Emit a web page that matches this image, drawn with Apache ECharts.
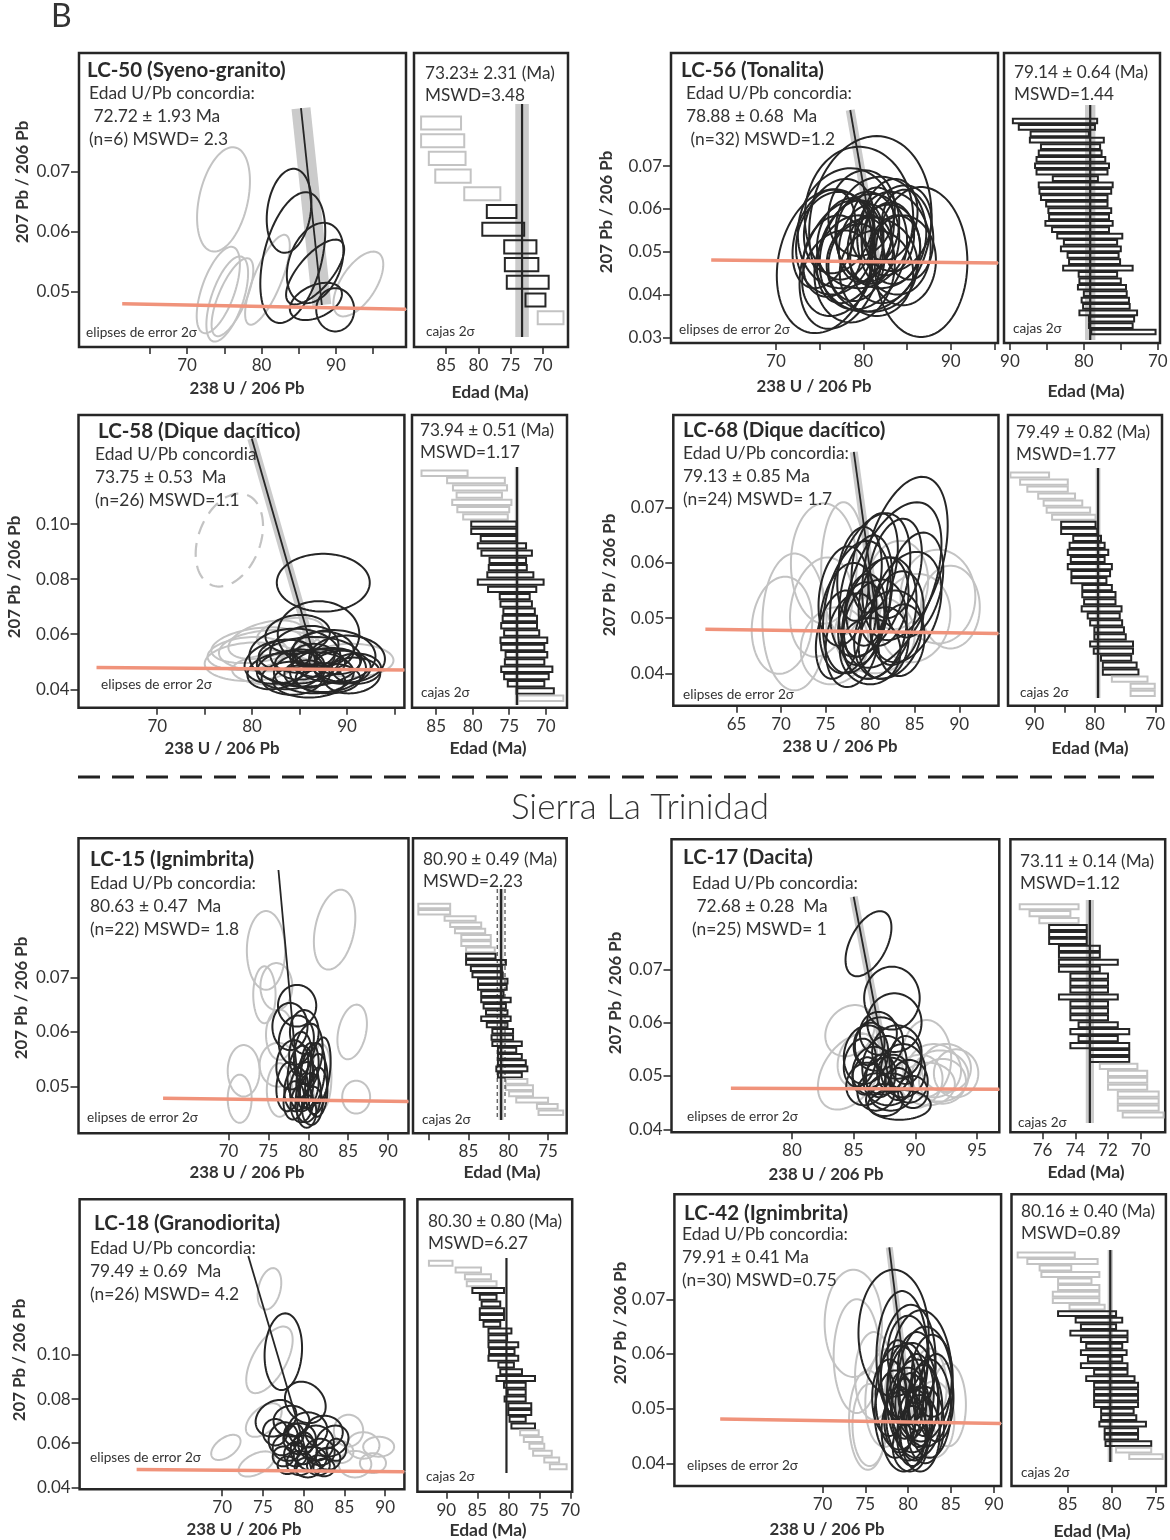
<!DOCTYPE html>
<html>
<head>
<meta charset="utf-8">
<script src="https://cdn.jsdelivr.net/npm/echarts@6/dist/echarts.min.js"></script>
<style>
  html, body { margin: 0; padding: 0; background: #ffffff; }
  #chart { width: 1170px; height: 1540px; }
</style>
</head>
<body>
<div id="chart"></div>
<script>
// Ellipses: [238U/206Pb centre, 207Pb/206Pb centre, half-width (2σ) x, half-height (2σ) y, correlation]
// Boxes: [older age, younger age, used in mean (1) or rejected (0)]

// ---------------- LC-50 ----------------
const lc50Black = [
  [83.7,0.0635,3.0,0.0070,0.2],[84.2,0.0557,4.36,0.0109,0.4],[87.2,0.0548,3.8,0.0067,0.3],
  [87.2,0.0533,3.9,0.0054,0.7],[87.3,0.0484,3.5,0.0031,0.4],[89.9,0.0470,2.55,0.0036,0.0]
];
const lc50Gray = [
  [74.9,0.0654,3.55,0.0087,0.35],[74.2,0.0503,2.9,0.0072,0.6],[75.4,0.0488,2.8,0.0071,0.6],
  [76.1,0.0491,2.8,0.0065,0.7],[80.8,0.0520,3.0,0.0075,0.75],[93.0,0.0513,3.35,0.0054,0.6]
];
const lc50Concordia = [[61.3,0.0480],[99.4,0.0471]];
const lc50Tail = [[99.4,0.0471],[101.3,0.0470]];
const lc50Regression = [[85.3,0.0806],[88.1,0.0478]];
const lc50Boxes = [
  [88.9,82.7,0],[88.9,82.2,0],[87.7,82.0,0],[86.7,81.2,0],[82.2,76.6,0],[78.7,74.1,1],
  [79.4,72.9,1],[76.0,71.0,1],[75.9,70.7,1],[75.6,69.1,1],[72.7,69.6,1],[70.8,66.8,0]
];
const lc50Mean = 73.23;
const lc50Band = 1.05;
const lc50XTicks = [65,70,75,80,85,90,95];
const lc50XLabels = [70,80,90];
const lc50YTicks = [0.05,0.06,0.07];
const lc50AgeTicks = [85,80,75,70];
const lc50AgeLabels = [85,80,75,70];
const lc50Text = ['LC-50 (Syeno-granito)','Edad U/Pb concordia:',' 72.72 ± 1.93 Ma','(n=6) MSWD= 2.3'];
const lc50BoxText = ['73.23± 2.31 (Ma)','MSWD=3.48'];

// ---------------- LC-56 ----------------
const lc56Black = [
  [80.8,0.0565,7.0,0.0205,0.1],[79.5,0.0580,6.2,0.0165,0.0],[86.6,0.0476,5.3,0.0175,0.0],
  [75.6,0.0478,5.5,0.0168,0.2],[77.5,0.0470,4.8,0.0150,0.3],[78.0,0.0555,5.5,0.0140,0.1],
  [82.0,0.0545,5.2,0.0130,0.0],[80.0,0.0500,5.0,0.0135,0.2],[76.8,0.0520,4.5,0.0120,0.1],
  [83.5,0.0520,4.2,0.0120,-0.1],[79.0,0.0460,4.6,0.0125,0.1],[81.0,0.0470,5.2,0.0110,0.0],
  [77.2,0.0560,4.0,0.0110,0.2],[84.0,0.0555,3.8,0.0100,0.2],[80.5,0.0535,3.6,0.0105,0.0],
  [78.5,0.0500,3.8,0.0120,0.3],[82.5,0.0495,4.0,0.0115,0.1],[75.5,0.0530,3.6,0.0115,0.3],
  [83.0,0.0575,3.2,0.0095,0.2],[79.8,0.0590,3.8,0.0100,0.1],[81.5,0.0450,4.2,0.0100,0.0],
  [77.0,0.0450,4.0,0.0100,0.2],[84.5,0.0480,3.8,0.0105,0.0],[80.2,0.0520,3.0,0.0090,0.2],
  [82.8,0.0530,3.0,0.0085,0.1],[78.0,0.0530,3.3,0.0095,0.2],[81.3,0.0560,2.8,0.0090,0.1],
  [76.5,0.0490,3.4,0.0095,0.2],[83.6,0.0505,2.9,0.0080,0.1],[79.2,0.0475,3.2,0.0090,0.1],
  [80.8,0.0505,2.6,0.0080,0.0],[85.0,0.0540,3.0,0.0105,-0.1]
];
const lc56Gray = [];
const lc56Concordia = [[62.6,0.0481],[95.4,0.0474]];
const lc56Tail = [[95.4,0.0474],[96.2,0.0474]];
const lc56Regression = [[78.5,0.0831],[81.5,0.0478]];
const lc56Boxes = [
  [89.6,78.2,1],[88.8,78.5,1],[87.2,79.3,1],[87.3,77.3,1],[85.8,77.8,1],[86.1,77.6,1],
  [86.4,77.1,1],[86.6,76.6,1],[86.4,76.8,1],[84.2,78.1,1],[86.1,76.1,1],[86.0,76.3,1],
  [85.8,76.8,1],[85.1,76.8,1],[84.8,76.3,1],[84.7,76.6,1],[85.2,76.1,1],[84.3,76.6,1],
  [83.6,74.8,1],[82.7,75.5,1],[83.1,75.0,1],[82.2,75.3,1],[82.0,75.1,1],[82.8,73.4,1],
  [80.7,75.5,1],[80.6,75.0,1],[80.8,74.3,1],[80.0,74.2,1],[80.3,73.9,1],[80.1,73.8,1],
  [80.6,72.8,1],[79.3,73.2,1],[79.3,73.4,1],[79.0,70.3,1]
];
const lc56Mean = 79.14;
const lc56Band = 0.7;
const lc56XTicks = [70,75,80,85,90,95];
const lc56XLabels = [70,80,90];
const lc56YTicks = [0.03,0.04,0.05,0.06,0.07];
const lc56AgeTicks = [90,85,80,75,70];
const lc56AgeLabels = [90,80,70];
const lc56Text = ['LC-56 (Tonalita)','Edad U/Pb concordia:','78.88 ± 0.68  Ma',' (n=32) MSWD=1.2'];
const lc56BoxText = ['79.14 ± 0.64 (Ma)','MSWD=1.44'];

// ---------------- LC-58 ----------------
const lc58Black = [
  [87.5,0.0787,4.9,0.0105,0.0],[87.0,0.0600,4.3,0.0120,0.0],[84.5,0.0520,4.8,0.0100,0.0],
  [86.0,0.0500,5.5,0.0090,0.1],[88.5,0.0520,4.5,0.0095,0.0],[83.0,0.0500,3.8,0.0080,0.2],
  [90.0,0.0510,4.0,0.0085,0.0],[86.5,0.0460,4.2,0.0075,0.0],[84.0,0.0470,3.5,0.0070,0.1],
  [88.0,0.0470,4.0,0.0080,0.1],[85.5,0.0545,3.6,0.0085,0.2],[87.5,0.0540,3.2,0.0070,0.0],
  [89.5,0.0480,3.0,0.0060,0.0],[82.5,0.0465,3.0,0.0065,0.2],[86.0,0.0430,3.8,0.0060,0.0],
  [88.0,0.0440,3.4,0.0055,0.0],[84.2,0.0440,3.2,0.0060,0.0],[90.5,0.0450,3.0,0.0065,0.1],
  [85.0,0.0490,2.6,0.0055,0.0],[87.0,0.0495,2.8,0.0050,0.0],[89.0,0.0500,2.4,0.0045,0.0],
  [83.5,0.0525,2.8,0.0055,0.1],[86.5,0.0520,2.2,0.0045,0.0],[91.0,0.0475,2.6,0.0055,0.0],
  [85.8,0.0455,2.4,0.0050,0.0],[84.8,0.0600,3.4,0.0070,0.1]
];
const lc58Gray = [
  [80.5,0.0560,4.8,0.0065,0.3],[79.5,0.0530,4.2,0.0060,0.2],[81.5,0.0580,4.0,0.0070,0.4],
  [80.0,0.0500,5.0,0.0070,0.1],[82.0,0.0540,5.5,0.0075,0.1],[90.5,0.0505,4.4,0.0060,0.0],
  [82.5,0.0470,4.6,0.0055,0.0],[84.0,0.0600,3.5,0.0060,0.3]
];
const lc58Dashed = [[77.6,0.0942,3.55,0.0169,0.3]];
const lc58Concordia = [[63.6,0.0479],[96.05,0.0470]];
const lc58Tail = [[96.05,0.0470],[101.1,0.0470]];
const lc58Regression = [[79.96,0.1311],[86.9,0.0475]];
const lc58Boxes = [
  [87.0,80.7,0],[83.5,75.6,0],[82.7,75.3,0],[82.2,76.0,0],[82.8,74.7,0],[82.1,75.0,0],
  [81.3,75.2,0],[80.2,74.0,1],[80.2,74.0,1],[78.9,74.0,1],[79.3,72.7,1],[78.8,71.9,1],
  [77.7,72.7,1],[77.8,72.6,1],[78.0,71.7,1],[79.3,70.3,1],[77.9,71.3,1],[76.3,72.2,1],
  [76.2,71.9,1],[75.8,71.5,1],[75.9,71.2,1],[76.1,71.2,1],[75.7,70.9,1],[76.2,69.8,1],
  [76.1,70.2,1],[75.5,69.8,1],[75.6,70.2,1],[76.1,69.1,1],[75.7,69.6,1],[75.2,70.2,1],
  [74.0,68.9,1],[73.8,67.6,0]
];
const lc58Mean = 73.94;
const lc58Band = 0.3;
const lc58XTicks = [70,75,80,85,90,95];
const lc58XLabels = [70,80,90];
const lc58YTicks = [0.04,0.06,0.08,0.10];
const lc58AgeTicks = [85,80,75,70];
const lc58AgeLabels = [85,80,75,70];
const lc58Text = ['LC-58 (Dique dacítico)','Edad U/Pb concordia','73.75 ± 0.53  Ma','(n=26) MSWD=1.1'];
const lc58BoxText = ['73.94 ± 0.51 (Ma)','MSWD=1.17'];

// ---------------- LC-68 ----------------
const lc68Black = [
  [83.9,0.0608,4.8,0.0148,0.4],[82.5,0.0560,5.5,0.0150,0.5],[80.0,0.0560,4.5,0.0130,0.4],
  [78.5,0.0520,3.8,0.0120,0.3],[81.0,0.0500,4.2,0.0110,0.3],[79.5,0.0540,3.0,0.0110,0.3],
  [84.0,0.0520,4.0,0.0100,0.3],[77.5,0.0500,3.2,0.0100,0.2],[80.5,0.0480,3.6,0.0090,0.2],
  [82.0,0.0470,3.8,0.0080,0.2],[78.0,0.0460,3.0,0.0085,0.2],[81.5,0.0530,2.8,0.0080,0.2],
  [79.0,0.0490,2.6,0.0075,0.2],[83.0,0.0500,3.0,0.0085,0.2],[80.0,0.0440,3.4,0.0060,0.0],
  [78.8,0.0580,2.5,0.0085,0.2],[82.8,0.0590,3.0,0.0090,0.3],[85.0,0.0560,3.2,0.0095,0.3],
  [77.0,0.0540,2.8,0.0090,0.2],[80.5,0.0600,2.6,0.0090,0.3],[81.5,0.0455,2.8,0.0065,0.1],
  [79.5,0.0515,2.2,0.0065,0.1],[76.5,0.0470,2.6,0.0080,0.3],[83.5,0.0460,2.6,0.0065,0.1]
];
const lc68Gray = [
  [70.1,0.0487,3.4,0.0088,0.1],[71.5,0.0493,3.6,0.0124,0.0],[74.8,0.0599,3.7,0.0109,0.0],
  [77.0,0.0590,2.5,0.0120,0.0],[87.6,0.0539,4.2,0.0085,0.0],[89.0,0.0520,3.3,0.0075,0.0],
  [85.0,0.0500,4.0,0.0080,0.1],[76.0,0.0450,3.8,0.0070,0.1],[80.5,0.0470,4.5,0.0070,0.0],
  [74.5,0.0520,3.5,0.0090,0.2],[83.0,0.0560,3.5,0.0080,0.1]
];
const lc68Concordia = [[61.5,0.0480],[94.4,0.0472]];
const lc68Tail = [[94.4,0.0472],[96.2,0.0472]];
const lc68Regression = [[78.16,0.0801],[80.9,0.0478]];
const lc68Boxes = [
  [94.0,87.6,0],[92.4,84.5,0],[91.2,84.5,0],[89.4,83.3,0],[88.5,82.1,0],[88.0,80.8,0],
  [87.1,79.9,0],[85.6,79.9,1],[85.6,79.6,1],[83.6,79.0,1],[84.2,78.4,1],[84.5,77.8,1],
  [84.0,78.4,1],[84.5,77.2,1],[83.9,77.5,1],[83.9,78.1,1],[82.1,77.2,1],[82.1,76.6,1],
  [81.8,76.6,1],[82.2,75.6,1],[81.2,75.9,1],[80.8,75.5,1],[80.1,75.2,1],[80.1,74.9,1],
  [80.8,73.7,1],[80.2,73.7,1],[79.0,74.0,1],[78.7,73.1,1],[78.7,72.8,1],[77.2,71.3,0],
  [74.1,70.1,0],[74.1,70.1,0]
];
const lc68Mean = 79.49;
const lc68Band = 0.4;
const lc68XTicks = [65,70,75,80,85,90];
const lc68XLabels = [65,70,75,80,85,90];
const lc68YTicks = [0.04,0.05,0.06,0.07];
const lc68AgeTicks = [90,85,80,75,70];
const lc68AgeLabels = [90,80,70];
const lc68Text = ['LC-68 (Dique dacítico)','Edad U/Pb concordia:','79.13 ± 0.85 Ma','(n=24) MSWD= 1.7'];
const lc68BoxText = ['79.49 ± 0.82 (Ma)','MSWD=1.77'];

// ---------------- LC-15 ----------------
const lc15Black = [
  [78.6,0.0648,2.4,0.0038,0.0],[77.7,0.0610,2.2,0.0043,0.0],[78.5,0.0585,2.2,0.0045,0.1],
  [79.5,0.0600,1.8,0.0040,0.0],[80.0,0.0560,1.8,0.0055,0.2],[78.0,0.0540,2.0,0.0045,0.1],
  [79.0,0.0525,1.6,0.0050,0.2],[80.5,0.0520,1.6,0.0060,0.3],[81.0,0.0505,1.4,0.0055,0.2],
  [79.5,0.0500,1.8,0.0045,0.2],[78.5,0.0495,1.5,0.0040,0.1],[80.0,0.0480,1.6,0.0045,0.2],
  [81.2,0.0490,1.2,0.0045,0.1],[79.2,0.0470,1.4,0.0035,0.1],[77.5,0.0500,1.5,0.0045,0.1],
  [80.5,0.0465,1.3,0.0035,0.1],[79.8,0.0455,1.2,0.0030,0.0],[78.2,0.0475,1.3,0.0035,0.1],
  [81.5,0.0530,1.3,0.0060,0.3],[79.0,0.0560,1.4,0.0040,0.1],[80.2,0.0540,1.1,0.0040,0.1],
  [79.6,0.0510,1.1,0.0050,0.2]
];
const lc15Gray = [
  [83.3,0.0787,2.6,0.0073,0.3],[74.7,0.0749,2.4,0.0072,0.0],[74.5,0.0668,1.4,0.0052,0.0],
  [76.0,0.0683,2.0,0.0043,0.0],[85.5,0.0600,1.85,0.0050,0.3],[76.4,0.0595,1.7,0.0046,0.0],
  [71.9,0.0529,2.0,0.0047,0.0],[71.4,0.0478,1.5,0.0044,0.0],[76.2,0.0540,2.3,0.0040,0.0],
  [76.4,0.0494,1.6,0.0049,0.0],[86.0,0.0481,1.75,0.0030,0.0],[81.7,0.0518,1.2,0.0060,0.0]
];
const lc15Concordia = [[61.8,0.0479],[92.56,0.0473]];
const lc15Tail = [[92.56,0.0473],[101.2,0.0473]];
const lc15Regression = [[76.26,0.0896],[78.9,0.0475]];
const lc15Boxes = [
  [91.3,87.3,0],[91.3,87.3,0],[88.0,84.1,0],[87.3,83.4,0],[86.7,82.9,0],[85.9,82.2,0],
  [85.9,82.2,0],[85.3,81.7,0],[85.3,81.6,1],[85.3,80.3,1],[84.7,80.8,1],[84.5,80.7,1],
  [83.8,80.1,1],[83.8,80.2,1],[83.4,80.6,1],[83.4,79.7,1],[83.1,80.3,1],[82.8,80.1,1],
  [83.4,79.7,1],[82.7,80.1,1],[82.0,79.4,1],[82.1,79.4,1],[82.0,78.3,1],[81.3,79.0,1],
  [81.3,78.3,1],[81.3,77.8,1],[81.5,77.6,1],[81.3,78.3,1],[80.3,77.6,0],[80.3,76.9,0],
  [79.9,76.9,0],[79.0,75.0,0],[76.4,73.8,0],[76.2,73.1,0]
];
const lc15Mean = 80.90;
const lc15Band = 0.3;
const lc15Error = 0.49;
const lc15XTicks = [70,75,80,85,90];
const lc15XLabels = [70,75,80,85,90];
const lc15YTicks = [0.05,0.06,0.07];
const lc15AgeTicks = [90,85,80,75];
const lc15AgeLabels = [85,80,75];
const lc15Text = ['LC-15 (Ignimbrita)','Edad U/Pb concordia:','80.63 ± 0.47  Ma','(n=22) MSWD= 1.8'];
const lc15BoxText = ['80.90 ± 0.49 (Ma)','MSWD=2.23'];

// ---------------- LC-17 ----------------
const lc17Black = [
  [86.2,0.0748,1.86,0.0061,0.5],[88.1,0.0646,2.25,0.0059,0.0],[88.3,0.0600,2.2,0.0055,0.0],
  [87.0,0.0560,2.0,0.0050,0.1],[86.0,0.0540,1.8,0.0055,0.1],[88.5,0.0545,2.0,0.0050,0.0],
  [87.5,0.0520,1.8,0.0055,0.1],[86.5,0.0510,1.6,0.0045,0.1],[89.0,0.0510,1.8,0.0050,0.0],
  [87.8,0.0490,2.0,0.0045,0.0],[86.0,0.0485,1.6,0.0040,0.1],[89.5,0.0490,1.5,0.0040,0.0],
  [88.0,0.0470,1.8,0.0035,0.0],[86.8,0.0470,1.5,0.0035,0.0],[88.7,0.0446,2.55,0.0028,0.0],
  [87.2,0.0500,1.2,0.0040,0.1],[85.5,0.0525,1.3,0.0045,0.2],[89.2,0.0530,1.3,0.0045,0.0],
  [87.0,0.0580,1.5,0.0040,0.0],[88.2,0.0505,1.3,0.0035,0.0],[86.3,0.0560,1.2,0.0040,0.1],
  [89.8,0.0470,1.2,0.0030,0.0],[87.5,0.0455,1.5,0.0030,0.0],[86.0,0.0500,1.1,0.0035,0.1],
  [88.6,0.0485,1.1,0.0030,0.0]
];
const lc17Gray = [
  [84.7,0.0585,2.0,0.0048,0.2],[84.7,0.0508,2.6,0.0071,0.4],[85.3,0.0530,1.6,0.0050,0.2],
  [90.9,0.0533,2.0,0.0072,0.0],[91.5,0.0510,2.2,0.0050,0.0],[92.0,0.0500,2.3,0.0048,0.0],
  [92.5,0.0515,2.0,0.0045,0.0],[93.3,0.0505,1.8,0.0045,0.0],[91.0,0.0485,2.2,0.0040,0.0],
  [92.2,0.0490,1.9,0.0042,0.0],[90.2,0.0490,2.0,0.0050,0.1]
];
const lc17Concordia = [[75.05,0.0477],[96.8,0.0475]];
const lc17Tail = [[96.8,0.0475],[100.7,0.0475]];
const lc17Regression = [[85.0,0.0836],[88.0,0.0475]];
const lc17Boxes = [
  [77.4,73.8,0],[76.8,74.3,0],[76.2,73.8,0],[75.6,73.3,1],[75.6,73.3,1],[75.6,73.3,1],
  [75.0,72.5,1],[75.0,72.5,1],[75.0,71.4,1],[75.0,72.5,1],[74.3,72.0,1],[74.3,72.0,1],
  [74.3,72.0,1],[75.0,71.4,1],[74.3,72.0,1],[74.3,72.0,1],[74.3,72.0,1],[73.8,71.4,1],
  [74.3,70.7,1],[73.8,71.4,1],[74.3,70.7,1],[73.1,70.7,1],[73.1,70.7,1],[72.5,70.2,0],
  [72.0,69.6,0],[72.0,69.6,0],[72.0,69.6,0],[71.4,68.9,0],[71.4,68.9,0],[71.4,68.9,0],
  [71.1,68.6,0]
];
const lc17Mean = 73.11;
const lc17Band = 0.25;
const lc17XTicks = [80,85,90,95];
const lc17XLabels = [80,85,90,95];
const lc17YTicks = [0.04,0.05,0.06,0.07];
const lc17AgeTicks = [76,74,72,70];
const lc17AgeLabels = [76,74,72,70];
const lc17Text = ['LC-17 (Dacita)','Edad U/Pb concordia:',' 72.68 ± 0.28  Ma','(n=25) MSWD= 1'];
const lc17BoxText = ['73.11 ± 0.14 (Ma)','MSWD=1.12'];

// ---------------- LC-18 ----------------
const lc18Black = [
  [77.5,0.1015,2.3,0.0174,0.1],[80.2,0.0785,2.5,0.0094,-0.2],[76.6,0.0713,2.5,0.0083,0.2],
  [78.5,0.0700,2.2,0.0070,0.0],[80.5,0.0660,2.4,0.0080,0.0],[82.5,0.0650,2.3,0.0075,0.0],
  [77.5,0.0620,1.8,0.0075,0.1],[79.5,0.0620,2.0,0.0070,0.0],[81.5,0.0600,2.2,0.0080,0.0],
  [83.5,0.0610,2.0,0.0070,0.2],[78.0,0.0580,1.8,0.0060,0.0],[80.0,0.0570,1.6,0.0065,0.0],
  [82.0,0.0560,1.8,0.0060,0.0],[79.0,0.0550,1.4,0.0055,0.0],[81.0,0.0530,1.8,0.0055,0.0],
  [83.0,0.0530,1.5,0.0050,0.0],[79.5,0.0510,1.6,0.0055,0.0],[81.8,0.0500,1.4,0.0045,0.0],
  [77.5,0.0540,1.3,0.0045,0.0],[80.5,0.0490,1.6,0.0045,0.0],[76.5,0.0650,1.5,0.0060,0.0],
  [78.8,0.0640,1.2,0.0050,0.0],[82.5,0.0490,1.3,0.0040,0.0],[80.0,0.0600,1.2,0.0050,0.0],
  [84.0,0.0570,1.2,0.0050,0.0],[78.0,0.0500,1.2,0.0040,0.0]
];
const lc18Gray = [
  [75.8,0.1300,1.45,0.0094,0.3],[75.8,0.0978,2.85,0.0151,0.6],[75.1,0.0705,2.2,0.0076,0.5],
  [70.45,0.0581,1.8,0.0057,0.5],[74.2,0.0506,2.2,0.0057,0.5],[85.5,0.0657,1.8,0.0072,0.0],
  [87.3,0.0590,2.0,0.0060,0.0],[89.2,0.0584,1.9,0.0045,0.0],[86.3,0.0505,2.0,0.0060,0.0],
  [84.5,0.0560,1.6,0.0050,0.0],[88.5,0.0510,1.6,0.0045,0.0]
];
const lc18Concordia = [[59.5,0.0481],[92.36,0.0471]];
const lc18Tail = [[92.36,0.0471],[94.76,0.0471]];
const lc18Regression = [[73.2,0.1449],[81.0,0.0475]];
const lc18Boxes = [
  [92.8,89.0,0],[88.5,84.4,0],[87.0,82.8,0],[86.7,81.9,0],[85.8,80.7,1],[84.6,81.9,1],
  [84.3,81.3,1],[84.6,80.7,1],[84.6,80.7,1],[84.0,81.3,1],[83.2,79.5,1],[83.2,80.2,1],
  [83.2,78.4,1],[83.1,79.0,1],[83.2,78.4,1],[81.6,79.1,1],[81.3,77.8,1],[81.9,75.7,1],
  [80.7,77.2,1],[80.1,77.2,1],[80.6,77.2,1],[80.0,76.3,1],[80.0,76.3,1],[79.8,77.2,1],
  [79.5,75.7,1],[78.1,75.1,0],[77.5,74.5,0],[76.6,74.2,0],[76.0,73.0,0],[74.2,71.8,0],
  [73.3,70.6,0]
];
const lc18Mean = 80.30;
const lc18Band = 0;
const lc18XTicks = [70,75,80,85,90];
const lc18XLabels = [70,75,80,85,90];
const lc18YTicks = [0.04,0.06,0.08,0.10];
const lc18AgeTicks = [90,85,80,75,70];
const lc18AgeLabels = [90,85,80,75,70];
const lc18Text = ['LC-18 (Granodiorita)','Edad U/Pb concordia:','79.49 ± 0.69  Ma','(n=26) MSWD= 4.2'];
const lc18BoxText = ['80.30 ± 0.80 (Ma)','MSWD=6.27'];

// ---------------- LC-42 ----------------
const lc42Black = [
  [78.3,0.0638,4.1,0.0116,0.0],[79.3,0.0595,3.0,0.0120,0.0],[80.0,0.0580,3.2,0.0110,0.1],
  [81.5,0.0560,3.6,0.0120,0.0],[82.0,0.0540,3.2,0.0110,0.0],[80.5,0.0520,3.0,0.0100,0.0],
  [79.0,0.0520,2.8,0.0095,0.0],[81.0,0.0500,3.0,0.0090,0.0],[80.0,0.0490,2.6,0.0085,0.0],
  [82.5,0.0500,2.5,0.0090,0.0],[78.5,0.0490,2.4,0.0080,0.0],[81.4,0.0455,2.3,0.0070,0.0],
  [79.5,0.0460,2.6,0.0075,0.0],[80.8,0.0470,2.0,0.0065,0.0],[82.0,0.0470,2.2,0.0070,0.0],
  [79.8,0.0545,2.2,0.0075,0.0],[81.0,0.0530,2.0,0.0070,0.0],[78.8,0.0555,2.0,0.0070,0.0],
  [80.3,0.0505,1.8,0.0060,0.0],[81.8,0.0515,1.8,0.0065,0.0],[79.0,0.0480,1.8,0.0060,0.0],
  [80.5,0.0450,1.8,0.0055,0.0],[82.8,0.0560,2.4,0.0075,0.0],[77.8,0.0520,2.0,0.0070,0.0],
  [80.0,0.0600,2.4,0.0070,0.0],[81.2,0.0485,1.6,0.0055,0.0],[79.6,0.0500,1.5,0.0055,0.0],
  [81.0,0.0575,2.2,0.0065,0.0],[83.3,0.0520,2.0,0.0080,0.0],[80.2,0.0430,2.0,0.0045,0.0]
];
const lc42Gray = [
  [73.6,0.0656,3.35,0.0098,0.0],[74.0,0.0596,2.7,0.0104,0.0],[75.3,0.0479,2.2,0.0091,0.0],
  [75.5,0.0470,2.0,0.0075,0.0],[77.5,0.0520,2.5,0.0090,0.1],[84.7,0.0507,2.05,0.0076,0.0],
  [83.0,0.0480,2.4,0.0070,0.0],[79.5,0.0530,2.2,0.0060,0.0],[80.5,0.0500,1.8,0.0045,0.0],
  [76.0,0.0560,2.2,0.0080,0.0],[82.5,0.0540,2.0,0.0070,0.0]
];
const lc42Concordia = [[58.05,0.0481],[90.86,0.0473]];
const lc42Tail = [[90.86,0.0473],[96.3,0.0473]];
const lc42Regression = [[77.8,0.0795],[80.3,0.0475]];
const lc42Boxes = [
  [90.7,84.2,0],[89.6,81.6,0],[88.2,84.6,0],[88.0,81.4,0],[86.1,82.3,0],[86.1,81.4,0],
  [86.7,81.4,0],[86.7,81.4,0],[84.8,80.8,0],[86.1,79.5,1],[84.1,78.8,1],[83.5,79.5,1],
  [84.7,78.2,1],[83.5,78.2,1],[82.9,78.8,1],[83.5,78.3,1],[82.7,78.8,1],[83.5,78.2,1],
  [82.0,78.2,1],[82.9,77.4,1],[82.0,77.0,1],[82.0,77.0,1],[82.0,77.0,1],[82.0,77.0,1],
  [81.2,77.5,1],[81.2,77.2,1],[81.4,76.1,1],[80.8,77.0,1],[80.8,77.0,1],[80.7,75.5,1],
  [79.5,75.5,0],[78.0,74.2,0]
];
const lc42Mean = 80.16;
const lc42Band = 0.3;
const lc42XTicks = [70,75,80,85,90];
const lc42XLabels = [70,75,80,85,90];
const lc42YTicks = [0.04,0.05,0.06,0.07];
const lc42AgeTicks = [85,80,75];
const lc42AgeLabels = [85,80,75];
const lc42Text = ['LC-42 (Ignimbrita)','Edad U/Pb concordia:','79.91 ± 0.41 Ma','(n=30) MSWD=0.75'];
const lc42BoxText = ['80.16 ± 0.40 (Ma)','MSWD=0.89'];

// Shared captions
const figureLetter = 'B';
const sectionTitle = 'Sierra La Trinidad';
const yAxisTitle = '207 Pb / 206 Pb';
const xAxisTitle = '238 U / 206 Pb';
const ageAxisTitle = 'Edad (Ma)';
const ellipseNote = 'elipses de error 2σ';
const boxNote = 'cajas 2σ';

// ---------------- layout (pixel frames, axis windows, text anchors) ----------------
const panels = [
  { black: lc50Black, gray: lc50Gray, dashed: [], conc: lc50Concordia, tail: lc50Tail, reg: lc50Regression,
    boxes: lc50Boxes, mean: lc50Mean, band: lc50Band, err: null,
    xTicks: lc50XTicks, xLabels: lc50XLabels, yTicks: lc50YTicks, aTicks: lc50AgeTicks, aLabels: lc50AgeLabels,
    text: lc50Text, boxText: lc50BoxText,
    cg: [79, 53, 406, 347], xr: [55.5, 99.4], yr: [0.0408, 0.0898],
    bg: [414, 53, 568, 347], ar: [66.1, 90.0], rows: [123, 317.7], meanPx: [104, 337], regW: 19,
    at: { title: [87, 70], info: [89, 93], box: [425, 73], elip: [86, 333], cajas: [426, 332],
          yName: [23, 182], xName: [247, 389], aName: [490, 392] } },
  { black: lc56Black, gray: lc56Gray, dashed: [], conc: lc56Concordia, tail: lc56Tail, reg: lc56Regression,
    boxes: lc56Boxes, mean: lc56Mean, band: lc56Band, err: null,
    xTicks: lc56XTicks, xLabels: lc56XLabels, yTicks: lc56YTicks, aTicks: lc56AgeTicks, aLabels: lc56AgeLabels,
    text: lc56Text, boxText: lc56BoxText,
    cg: [671, 53, 998, 343], xr: [58.0, 95.4], yr: [0.0287, 0.0964],
    bg: [1004, 53, 1160, 343], ar: [69.7, 90.8], rows: [121, 332], meanPx: [105, 340], regW: 9,
    at: { title: [681, 70], info: [686, 93], box: [1014, 72], elip: [679, 330], cajas: [1013, 329],
          yName: [607, 212], xName: [814, 387], aName: [1086, 391] } },
  { black: lc58Black, gray: lc58Gray, dashed: lc58Dashed, conc: lc58Concordia, tail: lc58Tail, reg: lc58Regression,
    boxes: lc58Boxes, mean: lc58Mean, band: lc58Band, err: null,
    xTicks: lc58XTicks, xLabels: lc58XLabels, yTicks: lc58YTicks, aTicks: lc58AgeTicks, aLabels: lc58AgeLabels,
    text: lc58Text, boxText: lc58BoxText,
    cg: [78.5, 415, 404.4, 707.7], xr: [61.7, 96.05], yr: [0.0333, 0.1396],
    bg: [412, 415, 567, 707.7], ar: [67.1, 88.3], rows: [473.3, 698.3], meanPx: [467, 705], regW: 9,
    at: { title: [98, 431], info: [95, 454], box: [420, 430], elip: [101, 685], cajas: [421, 693],
          yName: [15, 577], xName: [222, 749], aName: [488, 748] } },
  { black: lc68Black, gray: lc68Gray, dashed: [], conc: lc68Concordia, tail: lc68Tail, reg: lc68Regression,
    boxes: lc68Boxes, mean: lc68Mean, band: lc68Band, err: null,
    xTicks: lc68XTicks, xLabels: lc68XLabels, yTicks: lc68YTicks, aTicks: lc68AgeTicks, aLabels: lc68AgeLabels,
    text: lc68Text, boxText: lc68BoxText,
    cg: [673.3, 415, 998.5, 705.7], xr: [57.9, 94.4], yr: [0.03413, 0.0868],
    bg: [1008, 415, 1162, 705.7], ar: [68.9, 94.4], rows: [475, 693.3], meanPx: [468, 698], regW: 8,
    at: { title: [683, 430], info: [683, 453], box: [1016, 432], elip: [683, 695], cajas: [1020, 693],
          yName: [610, 575], xName: [840, 747], aName: [1090, 748] } },
  { black: lc15Black, gray: lc15Gray, dashed: [], conc: lc15Concordia, tail: lc15Tail, reg: lc15Regression,
    boxes: lc15Boxes, mean: lc15Mean, band: lc15Band, err: lc15Error,
    xTicks: lc15XTicks, xLabels: lc15XLabels, yTicks: lc15YTicks, aTicks: lc15AgeTicks, aLabels: lc15AgeLabels,
    text: lc15Text, boxText: lc15BoxText,
    cg: [78.5, 838.3, 408.5, 1133.3], xr: [51.2, 92.56], yr: [0.04148, 0.0954],
    bg: [413, 838.3, 566.7, 1133.3], ar: [72.66, 91.97], rows: [906, 1112.7], meanPx: [889, 1120], regW: 0,
    at: { title: [90, 859], info: [90, 883], box: [423, 859], elip: [87, 1118], cajas: [422, 1120],
          yName: [22, 998], xName: [247, 1173], aName: [502, 1172] } },
  { black: lc17Black, gray: lc17Gray, dashed: [], conc: lc17Concordia, tail: lc17Tail, reg: lc17Regression,
    boxes: lc17Boxes, mean: lc17Mean, band: lc17Band, err: null,
    xTicks: lc17XTicks, xLabels: lc17XLabels, yTicks: lc17YTicks, aTicks: lc17AgeTicks, aLabels: lc17AgeLabels,
    text: lc17Text, boxText: lc17BoxText,
    cg: [671.5, 839.3, 999.3, 1132.3], xr: [70.24, 96.8], yr: [0.03944, 0.09438],
    bg: [1010.4, 839.3, 1165.2, 1132.3], ar: [68.5, 77.97], rows: [906.7, 1115], meanPx: [900, 1123], regW: 8,
    at: { title: [683, 857], info: [692, 883], box: [1020, 861], elip: [687, 1117], cajas: [1018, 1123],
          yName: [616, 993], xName: [826, 1175], aName: [1086, 1172] } },
  { black: lc18Black, gray: lc18Gray, dashed: [], conc: lc18Concordia, tail: lc18Tail, reg: lc18Regression,
    boxes: lc18Boxes, mean: lc18Mean, band: lc18Band, err: null,
    xTicks: lc18XTicks, xLabels: lc18XLabels, yTicks: lc18YTicks, aTicks: lc18AgeTicks, aLabels: lc18AgeLabels,
    text: lc18Text, boxText: lc18BoxText,
    cg: [79.6, 1199.3, 404.4, 1489.3], xr: [52.5, 92.36], yr: [0.0391, 0.1706],
    bg: [417.4, 1199.3, 572.2, 1491.7], ar: [69.7, 94.66], rows: [1263.3, 1466.7], meanPx: [1258, 1473], regW: 0,
    at: { title: [94, 1223], info: [90, 1248], box: [428, 1221], elip: [90, 1458], cajas: [426, 1477],
          yName: [20, 1360], xName: [244, 1530], aName: [488, 1530] } },
  { black: lc42Black, gray: lc42Gray, dashed: [], conc: lc42Concordia, tail: lc42Tail, reg: lc42Regression,
    boxes: lc42Boxes, mean: lc42Mean, band: lc42Band, err: null,
    xTicks: lc42XTicks, xLabels: lc42XLabels, yTicks: lc42YTicks, aTicks: lc42AgeTicks, aLabels: lc42AgeLabels,
    text: lc42Text, boxText: lc42BoxText,
    cg: [674.4, 1194.3, 1001.1, 1486], xr: [52.7, 90.86], yr: [0.03585, 0.0892],
    bg: [1011.5, 1194.3, 1165.9, 1486], ar: [73.83, 91.4], rows: [1255, 1456.7], meanPx: [1250, 1462], regW: 7,
    at: { title: [684, 1213], info: [682, 1234], box: [1021, 1211], elip: [687, 1466], cajas: [1021, 1473],
          yName: [621, 1323], xName: [827, 1530], aName: [1092, 1531] } }
];

// ---------------- styling ----------------
const FONT = 'Lato, "Open Sans", "DejaVu Sans", sans-serif';
const INK = '#262626';
const TEXT = '#333333';
const LIGHT = '#c3c3c3';
const BAND = '#cbcbcb';
const CONCORDIA = '#f0937b';

function ellipseRenderer(color, width, dash) {
  return function (params, api) {
    const cx = api.value(0), cy = api.value(1), sx = api.value(2), sy = api.value(3), r = api.value(4);
    const k = Math.sqrt(Math.max(0, 1 - r * r));
    const pts = [];
    for (let i = 0; i < 90; i++) {
      const t = (i / 90) * Math.PI * 2;
      const c = Math.cos(t), s = Math.sin(t);
      pts.push(api.coord([cx + sx * c, cy + sy * (r * c + k * s)]));
    }
    return { type: 'polygon', shape: { points: pts },
      style: { fill: 'none', stroke: color, lineWidth: width, lineDash: dash || null } };
  };
}

function boxRenderer(half) {
  return function (params, api) {
    const a = api.coord([api.value(0), api.value(3) - half]);
    const b = api.coord([api.value(1), api.value(3) + half]);
    const used = api.value(2) === 1;
    return { type: 'rect',
      shape: { x: Math.min(a[0], b[0]), y: Math.min(a[1], b[1]), width: Math.abs(b[0] - a[0]), height: Math.abs(b[1] - a[1]) },
      style: { fill: 'none', stroke: used ? INK : LIGHT, lineWidth: 2 } };
  };
}

function bandRenderer(params, api) {
  const a = api.coord([api.value(0), api.value(2)]);
  const b = api.coord([api.value(1), api.value(3)]);
  return { type: 'rect',
    shape: { x: Math.min(a[0], b[0]), y: Math.min(a[1], b[1]), width: Math.abs(b[0] - a[0]), height: Math.abs(b[1] - a[1]) },
    style: { fill: BAND } };
}

function gridOf(f) {
  return { left: f[0], top: f[1], width: f[2] - f[0], height: f[3] - f[1], show: true,
    borderColor: INK, borderWidth: 2.5, backgroundColor: 'transparent',
    containLabel: false, outerBoundsMode: 'none' };
}

function axisLabelStyle(values, margin, fmt) {
  return { show: true, customValues: values, margin: margin, fontSize: 17, color: TEXT, fontFamily: FONT,
    formatter: fmt, showMinLabel: true, showMaxLabel: true };
}

const grids = [], xAxes = [], yAxes = [], series = [], graphics = [];

function text(x, y, str, size, weight, extra) {
  const el = { type: 'text', x: x, y: y, silent: true, z: 100,
    style: { text: str, fontSize: size, fontWeight: weight || 'normal', fontFamily: FONT, fill: TEXT,
             align: 'left', verticalAlign: 'middle' } };
  if (extra) {
    if (extra.rotation != null) el.rotation = extra.rotation;
    Object.assign(el.style, extra.style || {});
  }
  graphics.push(el);
}

panels.forEach(function (p) {
  // ---- concordia diagram ----
  const gi = grids.length;
  grids.push(gridOf(p.cg));
  xAxes.push({ gridIndex: gi, type: 'value', min: p.xr[0], max: p.xr[1], scale: true,
    axisLine: { show: false, onZero: false }, splitLine: { show: false },
    axisTick: { show: true, inside: false, length: 7, customValues: p.xTicks, lineStyle: { color: INK, width: 1.5 } },
    axisLabel: axisLabelStyle(p.xLabels, 10, function (v) { return String(Math.round(v)); }) });
  yAxes.push({ gridIndex: gi, type: 'value', min: p.yr[0], max: p.yr[1], scale: true,
    axisLine: { show: false, onZero: false }, splitLine: { show: false },
    axisTick: { show: true, inside: false, length: 8, customValues: p.yTicks, lineStyle: { color: INK, width: 1.5 } },
    axisLabel: axisLabelStyle(p.yTicks, 9, function (v) { return v.toFixed(2); }) });

  if (p.regW > 0) {
    series.push({ type: 'line', xAxisIndex: gi, yAxisIndex: gi, data: p.reg, symbol: 'none', silent: true,
      z: 1, lineStyle: { color: BAND, width: p.regW, cap: 'butt' } });
  }
  series.push({ type: 'custom', coordinateSystem: 'cartesian2d', xAxisIndex: gi, yAxisIndex: gi, z: 3, silent: true,
    data: p.gray, renderItem: ellipseRenderer(LIGHT, 2) });
  if (p.dashed.length) {
    series.push({ type: 'custom', coordinateSystem: 'cartesian2d', xAxisIndex: gi, yAxisIndex: gi, z: 3, silent: true,
      data: p.dashed, renderItem: ellipseRenderer(LIGHT, 2.2, [14, 9]) });
  }
  series.push({ type: 'custom', coordinateSystem: 'cartesian2d', xAxisIndex: gi, yAxisIndex: gi, z: 4, silent: true,
    data: p.black, renderItem: ellipseRenderer(INK, 2) });
  series.push({ type: 'line', xAxisIndex: gi, yAxisIndex: gi, data: p.reg, symbol: 'none', silent: true,
    z: 5, lineStyle: { color: INK, width: 1.8 } });
  series.push({ type: 'line', xAxisIndex: gi, yAxisIndex: gi, data: p.conc, symbol: 'none', silent: true,
    z: 6, lineStyle: { color: CONCORDIA, width: 3.5, cap: 'butt' } });
  series.push({ type: 'line', xAxisIndex: gi, yAxisIndex: gi, data: p.tail, symbol: 'none', silent: true, clip: false,
    z: 6, lineStyle: { color: '#b5b5b5', width: 1 } });

  // ---- weighted-mean age boxes ----
  const bi = grids.length;
  grids.push(gridOf(p.bg));
  const n = p.boxes.length;
  const pitch = (p.rows[1] - p.rows[0]) / (n - 1);
  const toRow = function (px) { return (px - p.rows[0]) / pitch; };
  xAxes.push({ gridIndex: bi, type: 'value', inverse: true, min: p.ar[0], max: p.ar[1], scale: true,
    axisLine: { show: false, onZero: false }, splitLine: { show: false },
    axisTick: { show: true, inside: false, length: 7, customValues: p.aTicks, lineStyle: { color: INK, width: 1.5 } },
    axisLabel: axisLabelStyle(p.aLabels, 10, function (v) { return String(Math.round(v)); }) });
  yAxes.push({ gridIndex: bi, type: 'value', inverse: true, show: false, scale: true,
    axisLine: { show: false, onZero: false },
    min: toRow(p.bg[1]), max: toRow(p.bg[3]) });

  const r0 = toRow(p.meanPx[0]), r1 = toRow(p.meanPx[1]);
  if (p.band > 0) {
    series.push({ type: 'custom', coordinateSystem: 'cartesian2d', xAxisIndex: bi, yAxisIndex: bi, z: 1, silent: true,
      encode: { x: [0, 1], y: [2, 3] },
      data: [[p.mean - p.band, p.mean + p.band, r0, r1]], renderItem: bandRenderer });
  }
  series.push({ type: 'custom', coordinateSystem: 'cartesian2d', xAxisIndex: bi, yAxisIndex: bi, z: 2, silent: true,
    encode: { x: [0, 1], y: 3 },
    data: p.boxes.map(function (b, i) { return [b[0], b[1], b[2], i]; }), renderItem: boxRenderer(0.37) });
  series.push({ type: 'line', xAxisIndex: bi, yAxisIndex: bi, symbol: 'none', silent: true, z: 3,
    data: [[p.mean, r0], [p.mean, r1]], lineStyle: { color: INK, width: 2.2 } });
  if (p.err) {
    [-1, 1].forEach(function (s) {
      series.push({ type: 'line', xAxisIndex: bi, yAxisIndex: bi, symbol: 'none', silent: true, z: 3,
        data: [[p.mean + s * p.err, r0], [p.mean + s * p.err, r1]],
        lineStyle: { color: INK, width: 1, type: [4, 3] } });
    });
  }

  // ---- captions ----
  text(p.at.title[0], p.at.title[1], p.text[0], 20.5, 'bold', { style: { fill: '#2a2a2a' } });
  for (let i = 1; i < p.text.length; i++) {
    text(p.at.info[0], p.at.info[1] + (i - 1) * 23, p.text[i], 17.4, 'normal');
  }
  text(p.at.box[0], p.at.box[1], p.boxText[0], 17.2, 'normal');
  text(p.at.box[0], p.at.box[1] + 22.5, p.boxText[1], 17.2, 'normal');
  text(p.at.elip[0], p.at.elip[1], ellipseNote, 13.6, 'normal');
  text(p.at.cajas[0], p.at.cajas[1], boxNote, 13.6, 'normal');
  text(p.at.yName[0], p.at.yName[1], yAxisTitle, 16.8, 'bold', { rotation: Math.PI / 2, style: { align: 'center' } });
  text(p.at.xName[0], p.at.xName[1], xAxisTitle, 16.8, 'bold', { style: { align: 'center' } });
  text(p.at.aName[0], p.at.aName[1], ageAxisTitle, 17.5, 'bold', { style: { align: 'center' } });
});

// Figure letter, section separator and heading
text(51, 17, figureLetter, 32, 'normal');
graphics.push({ type: 'line', silent: true, z: 100,
  shape: { x1: 78, y1: 777, x2: 1160, y2: 777 },
  style: { stroke: '#222222', lineWidth: 3, lineDash: [22, 12] } });
text(640, 808, sectionTitle, 35, 300, { style: { align: 'center' } });

const chart = echarts.init(document.getElementById('chart'), null, { renderer: 'canvas' });
chart.setOption({
  animation: false,
  backgroundColor: '#ffffff',
  grid: grids,
  xAxis: xAxes,
  yAxis: yAxes,
  series: series,
  graphic: { elements: graphics }
});
</script>
</body>
</html>
